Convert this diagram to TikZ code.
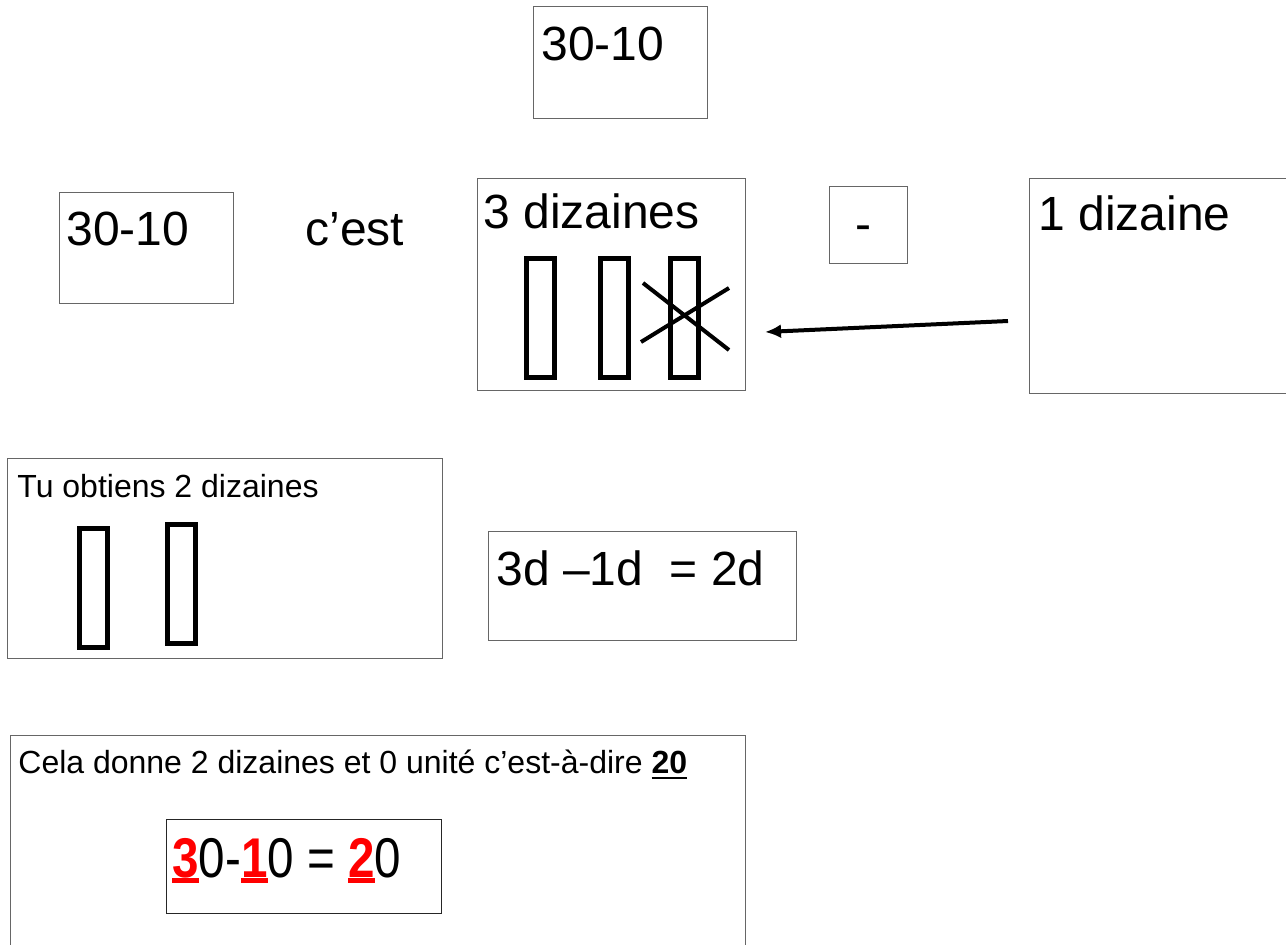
\documentclass[tikz,border=0pt]{standalone}
\usepackage{fontspec}
\setmainfont{Liberation Sans}
\newfontfamily\narrowsans{Liberation Sans}[FakeStretch=0.85]
\usetikzlibrary{positioning, arrows.meta}
\newcommand{\ulnum}[2][-0.2em]{\setbox0\hbox{#2}\rlap{\rule[#1]{\wd0}{0.09em}}\box0}

\begin{document}
\begin{tikzpicture}[x=0.5pt, y=-0.5pt,
    box/.style={draw=black!60, line width=0.6pt, inner sep=0pt, anchor=north west},
    bar/.style={draw, line width=2.5pt, inner sep=0pt, minimum width=14pt, minimum height=59.5pt},
    big/.style={anchor=base west, inner sep=0pt, font=\fontsize{24}{28}\selectfont},
    small/.style={anchor=base west, inner sep=0pt, font=\fontsize{16}{19}\selectfont}]
  \useasboundingbox (0,0) rectangle (1286,944);

  % boxes
  \node[box, minimum width=87pt, minimum height=56pt] (top) at (533,6) {};
  \node[box, minimum width=87pt, minimum height=55.5pt] (left) at (59,192) {};
  \node[box, minimum width=134pt, minimum height=106pt] (three) at (477,178) {};
  \node[box, minimum width=39pt, minimum height=38.5pt] (minus) at (829,186) {};
  \node[box, minimum width=131pt, minimum height=107.5pt] (one) at (1029,178) {};
  \node[box, minimum width=217.5pt, minimum height=100pt] (tu) at (7,458) {};
  \node[box, minimum width=154pt, minimum height=54.5pt] (eq) at (488,531) {};
  \node[box, minimum width=367.5pt, minimum height=110pt] (cela) at (10,735) {};
  \node[box, draw=black!85, minimum width=137.5pt, minimum height=47pt] (res) at (166,819) {};

  % texts
  \node[big] (toplbl) at (541,60) {30-10};
  \node[big] (leftlbl) at (66,245) {30-10};
  \node[big] (cest) at (305,245) {c’est};
  \node[big] (threelbl) at (483,228) {3 dizaines};
  \node[big] (minuslbl) at (855,240) {-};
  \node[big] (onelbl) at (1038,230) {1 dizaine};
  \node[small] (tulbl) at (17,497) {Tu obtiens 2 dizaines};
  \node[big] (eqlbl) at (496,585) {3d –1d\ \ = 2d};
  \node[small] (celalbl) at (18,773) {Cela donne 2 dizaines et 0 unité c’est-à-dire \textbf{\ulnum{20}}};
  \node[anchor=base west, inner sep=0pt, font=\narrowsans\fontsize{28}{32}\selectfont] (reslbl) at (172,877)
    {\textcolor{red}{\bfseries\ulnum[-0.1em]{3}}0-\textcolor{red}{\bfseries\ulnum[-0.1em]{1}}0 = \textcolor{red}{\bfseries\ulnum[-0.1em]{2}}0};

  % tens bars
  \node[bar] (bara) at (540.5,318) {};
  \node[bar] (barb) at (614.5,318) {};
  \node[bar] (barc) at (684.5,318) {};
  \draw[line width=2pt] (641,342) -- (729,288);
  \draw[line width=2pt] (643,283) -- (729,350);
  \node[bar] (bard) at (93,588) {};
  \node[bar] (bare) at (181.5,583.5) {};

  % arrow
  \coordinate (from) at (1008,321);
  \coordinate (to) at (765,332);
  \draw[line width=2pt, -{Latex[length=8pt, width=7pt]}] (from) -- (to);
\end{tikzpicture}
\end{document}
